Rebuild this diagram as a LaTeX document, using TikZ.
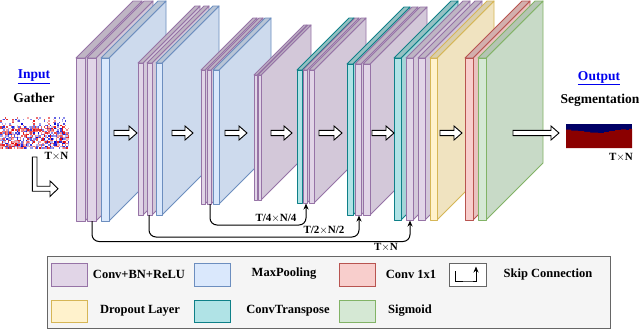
\documentclass[tikz,border=0pt]{standalone}
\usepackage{fontspec}
\setmainfont{Liberation Serif}
\usetikzlibrary{arrows.meta}
\definecolor{puF}{HTML}{E1D5E7}\definecolor{puD}{HTML}{9673A6}
\definecolor{blF}{HTML}{DAE8FC}\definecolor{blD}{HTML}{6C8EBF}
\definecolor{reF}{HTML}{F8CECC}\definecolor{reD}{HTML}{B85450}
\definecolor{yeF}{HTML}{FFF2CC}\definecolor{yeD}{HTML}{D6B656}
\definecolor{teF}{HTML}{B0E3E6}\definecolor{teD}{HTML}{0E8088}
\definecolor{grF}{HTML}{D5E8D4}\definecolor{grD}{HTML}{82B366}
\definecolor{navyseg}{HTML}{000066}\definecolor{redseg}{HTML}{8B0000}
\definecolor{linkblue}{HTML}{0000EE}
\definecolor{legfill}{HTML}{F5F5F5}\definecolor{legline}{HTML}{666666}
\definecolor{noisered}{HTML}{E00000}\definecolor{noiseblue}{HTML}{0000D0}
\newcommand\slabbox[6]{%
  \filldraw[slabline,draw=#6D,fill=#6F!94!black] (#1+#2,#3) -- ++(#5,-#5) -- ++(0,#4-#3) -- (#1+#2,#4) -- cycle;
  \filldraw[slabline,draw=#6D,fill=#6F!85!black] (#1,#3) -- ++(#5,-#5) -- ++(#2,0) -- (#1+#2,#3) -- cycle;
  \filldraw[slabline,draw=#6D,fill=#6F] (#1,#3) rectangle (#1+#2,#4);
}
\newcommand\harrow[3]{%
  \filldraw[hollowarrow] (#1,#3-2.6) -- (#2-8,#3-2.6) -- (#2-8,#3-7) -- (#2,#3) -- (#2-8,#3+7) -- (#2-8,#3+2.6) -- (#1,#3+2.6) -- cycle;
}
\begin{document}
\begin{tikzpicture}[x=1pt,y=-1pt,
  slabline/.style={line width=0.9pt,line join=round},
  hollowarrow/.style={fill=white,draw=black,line width=0.9pt,line join=miter},
  skipline/.style={draw=black,line width=1pt,rounded corners=7pt,-{Stealth[length=6pt,width=5pt]}},
  lab/.style={font=\fontsize{12.5}{14}\selectfont\bfseries,inner sep=0pt},
  biglab/.style={font=\fontsize{13.5}{15}\selectfont\bfseries,inner sep=0pt},
  dimlab/.style={font=\fontsize{11}{13}\selectfont\bfseries,inner sep=0pt},
  swatch/.style={line width=1pt}]
\useasboundingbox (0,0) rectangle (640,330);
\fill[white] (0,0) rectangle (640,330);
% ---------- encoder ----------
\slabbox{76}{9}{58}{221}{57}{pu}
\slabbox{87}{9}{58}{221}{57}{pu}
\slabbox{101}{8}{58}{221}{57}{bl}
\slabbox{138}{5}{63}{215}{57}{pu}
\slabbox{147}{5}{63}{215}{57}{pu}
\slabbox{156}{6}{63}{215}{57}{bl}
\slabbox{201}{4}{70}{204}{52}{pu}
\slabbox{207}{4}{70}{204}{52}{pu}
\slabbox{213}{6}{70}{204}{52}{bl}
\slabbox{254}{3}{75}{200}{50}{pu}
\slabbox{258}{3}{75}{200}{50}{pu}
% ---------- decoder ----------
\slabbox{297}{5}{70}{203}{52}{te}
\slabbox{303}{4}{70}{203}{52}{pu}
\slabbox{309}{5}{70}{203}{52}{pu}
\slabbox{347}{6}{64}{215}{57}{te}
\slabbox{355}{6}{64}{215}{57}{pu}
\slabbox{363}{7}{64}{215}{57}{pu}
\slabbox{394}{7}{58}{220}{57}{te}
\slabbox{406}{7}{58}{220}{57}{pu}
\slabbox{418}{7}{58}{220}{57}{pu}
\slabbox{430}{7}{58}{220}{57}{ye}
\slabbox{465}{8}{58}{220}{57}{re}
\slabbox{478}{8}{58}{220}{57}{gr}
% ---------- flow arrows ----------
\harrow{114}{137}{133}
\harrow{172}{193}{133}
\harrow{225}{247}{133}
\harrow{271}{292}{133}
\harrow{319}{342}{133}
\harrow{372}{394}{133}
\harrow{440}{462}{133}
\harrow{513}{559}{133}
% ---------- skip connections ----------
\coordinate (s1a) at (92,221);  \coordinate (s1b) at (410,220.5);
\coordinate (s2a) at (149,215); \coordinate (s2b) at (359,215.5);
\coordinate (s3a) at (210,204); \coordinate (s3b) at (306,203.5);
\draw[skipline] (s1a) -- ++(0,20.5) -| (s1b);
\draw[skipline] (s2a) -- ++(0,22) -| (s2b);
\draw[skipline] (s3a) -- ++(0,21) -| (s3b);
\node[dimlab] (d3) at (276,218) {T/4$\times$N/4};
\node[dimlab] (d2) at (324,230) {T/2$\times$N/2};
\node[dimlab] (d1) at (386,247) {T$\times$N};
% ---------- input ----------
\node[biglab,text=linkblue] (inp) at (34,77) {\underline{Input}};
\node[biglab] (gat) at (34,98) {Gather};
\pgfmathsetseed{11}
\foreach \i in {0,...,45}{
  \foreach \j in {0,...,20}{
    \pgfmathsetmacro{\rr}{rnd}
    \pgfmathsetmacro{\kk}{int(25+75*rnd)}
    \pgfmathsetmacro{\pp}{\j<6 ? 0.10 : (\j<10 ? 0.45 : 0.36)}
    \pgfmathsetmacro{\qq}{\j<6 ? 0.20 : (\j<10 ? 0.72 : 0.72)}
    \ifdim\rr pt<\pp pt
      \fill[noisered!\kk!white] (\i*1.5,117+\j*1.5) rectangle ++(1.5,1.5);
    \else
      \ifdim\rr pt<\qq pt
        \fill[noiseblue!\kk!white] (\i*1.5,117+\j*1.5) rectangle ++(1.5,1.5);
      \fi
    \fi
  }
}
\node[dimlab] (inN) at (56.5,156) {T$\times$N};
\filldraw[hollowarrow] (32.3,157) -- (32.3,191.2) -- (50,191.2) -- (50,196.5) -- (58,188.7) -- (50,180.9) -- (50,186.2) -- (37,186.2) -- (37,157) -- cycle;
% ---------- output ----------
\node[biglab,text=linkblue] (outp) at (599,78) {\underline{Output}};
\node[biglab] (seg) at (600,100) {Segmentation};
\fill[navyseg] (566,124) rectangle (632,148);
\fill[redseg] (566,129.5) -- (571,129.5) -- (571,130.5) -- (578,130.5) -- (578,131) -- (584,131) -- (584,131.8) -- (590,131.8) -- (590,132.5) -- (598,132.5) -- (598,133) -- (604,133) -- (604,132) -- (609,132) -- (609,131) -- (615,131) -- (615,130) -- (621,130) -- (621,129.3) -- (626,129.3) -- (626,130) -- (629,130) -- (629,128.8) -- (632,128.8) -- (632,148) -- (566,148) -- cycle;
\node[dimlab] (outN) at (621,157) {T$\times$N};
% ---------- legend ----------
\filldraw[draw=legline,fill=legfill,line width=1pt] (47,256) rectangle (610,328);
\filldraw[swatch,draw=puD,fill=puF] (51,263) rectangle (87,286);
\filldraw[swatch,draw=blD,fill=blF] (194,263) rectangle (230,286);
\filldraw[swatch,draw=reD,fill=reF] (339,263) rectangle (375,286);
\filldraw[swatch,draw=legline,fill=white] (449,263) rectangle (486,286);
\coordinate (ska) at (455,271);
\coordinate (skb) at (476,266.5);
\draw[line width=1pt,-{Stealth[length=6pt,width=5pt]}] (ska) |- (470,281) -| (skb);
\filldraw[swatch,draw=yeD,fill=yeF] (51,300) rectangle (87,322);
\filldraw[swatch,draw=teD,fill=teF] (194,300) rectangle (230,322);
\filldraw[swatch,draw=grD,fill=grF] (339,300) rectangle (375,322);
\node[lab] (l1) at (139,274) {Conv+BN+ReLU};
\node[lab] (l2) at (284,274) {MaxPooling};
\node[lab] (l3) at (411,274) {Conv 1x1};
\node[lab] (l4) at (548,274) {Skip Connection};
\node[lab] (l5) at (140,311) {Dropout Layer};
\node[lab] (l6) at (288,311) {ConvTranspose};
\node[lab] (l7) at (410,311) {Sigmoid};
\end{tikzpicture}
\end{document}
